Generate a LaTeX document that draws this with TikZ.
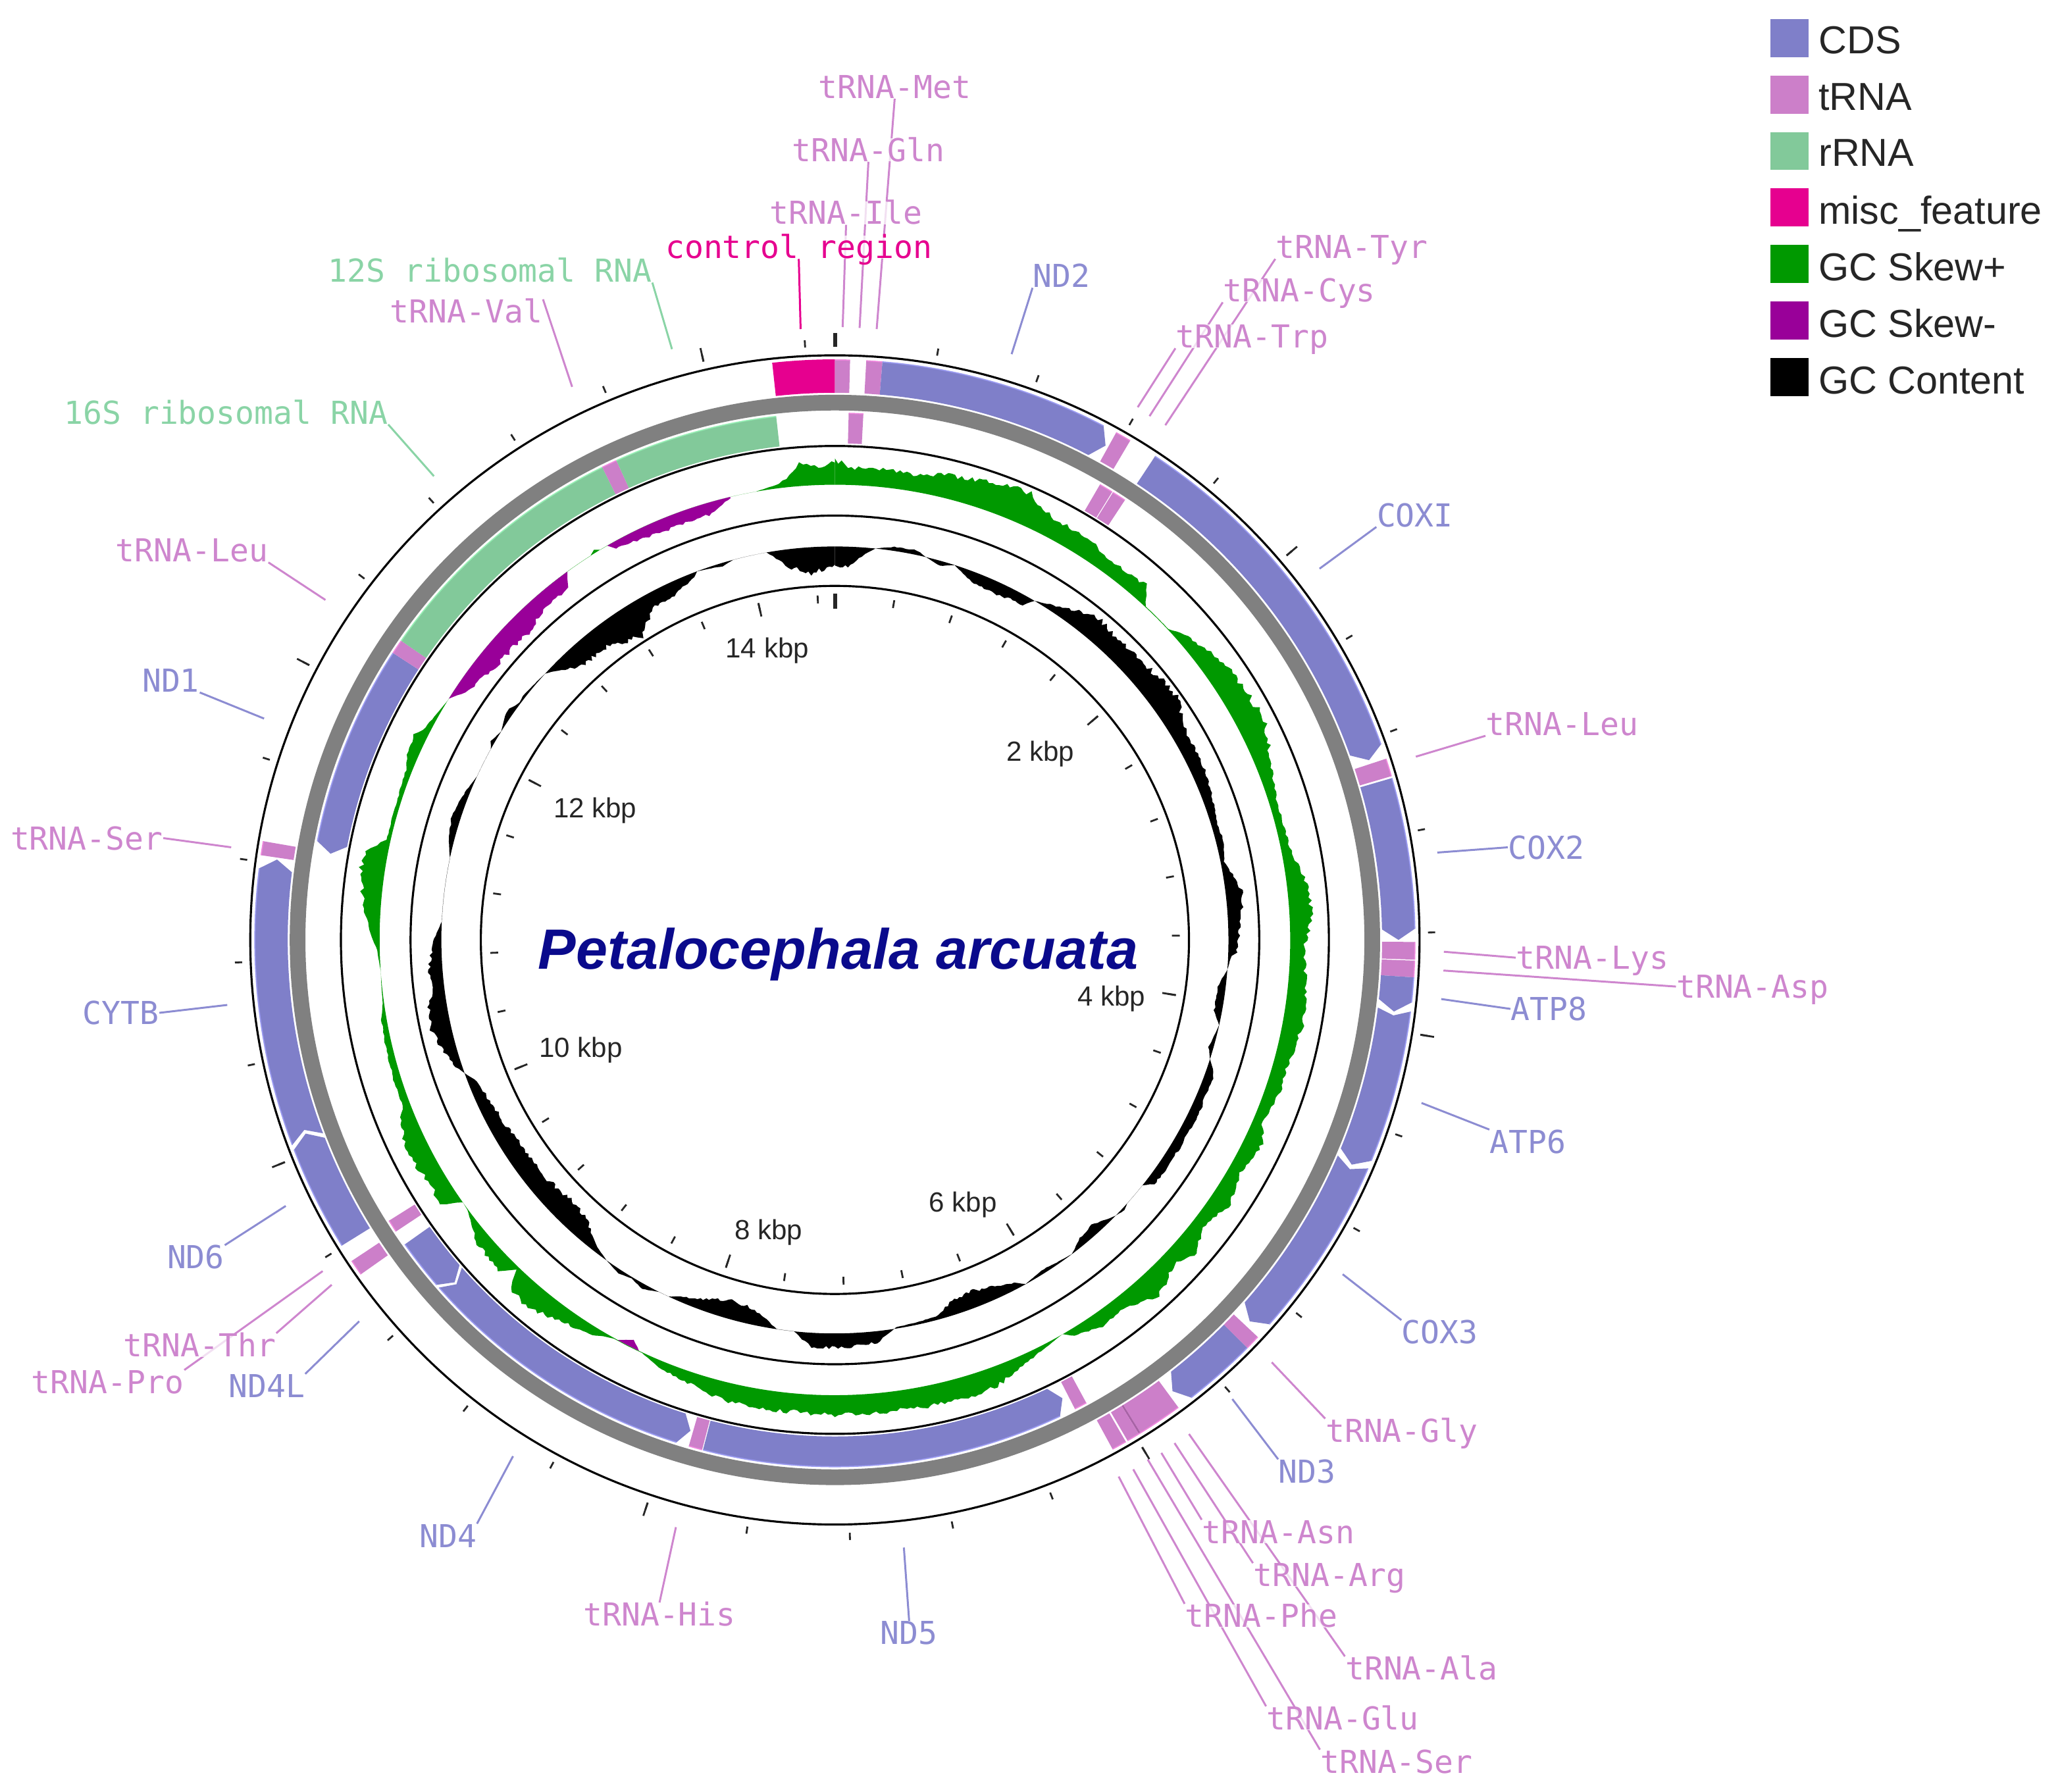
\documentclass[tikz,border=0pt]{standalone}
\usepackage{fontspec}
\setmainfont{Liberation Sans}
\newfontfamily\labelfont{DejaVu Sans Mono}
\usetikzlibrary{backgrounds}
\definecolor{cdsfill}{HTML}{7F7FC9}
\definecolor{cdsrim}{HTML}{9C9CF2}
\definecolor{cdstext}{HTML}{8C8CD2}
\definecolor{trnafill}{HTML}{CC7FC9}
\definecolor{trnarim}{HTML}{EE88DD}
\definecolor{trnadark}{HTML}{A862A6}
\definecolor{trnatext}{HTML}{CE86CE}
\definecolor{rrnafill}{HTML}{82C99A}
\definecolor{rrnarim}{HTML}{96EEB4}
\definecolor{rrnatext}{HTML}{8AD4A6}
\definecolor{miscfill}{HTML}{E6008F}
\definecolor{skewplus}{HTML}{009900}
\definecolor{skewminus}{HTML}{990099}
\definecolor{titleblue}{HTML}{0A0A8C}
\definecolor{ringgray}{HTML}{808080}
\tikzstyle{genelabel}=[font=\labelfont\fontsize{13.7}{16}\selectfont,inner sep=0pt,text height=10pt,text depth=0pt,fill=white,fill opacity=0.75,text opacity=1]
\tikzstyle{cdslabel}=[genelabel,text=cdstext]
\tikzstyle{trnalabel}=[genelabel,text=trnatext]
\tikzstyle{rrnalabel}=[genelabel,text=rrnatext]
\tikzstyle{misclabel}=[genelabel,text=miscfill]
\tikzstyle{cdsline}=[draw=cdstext,line width=0.85pt]
\tikzstyle{trnaline}=[draw=trnatext,line width=0.85pt]
\tikzstyle{rrnaline}=[draw=rrnatext,line width=0.85pt]
\tikzstyle{miscline}=[draw=miscfill,line width=0.85pt]
\tikzstyle{ring}=[draw=black,line width=0.9pt]
\tikzstyle{tickline}=[draw=black!85,line width=0.8pt]
\tikzstyle{kbplabel}=[font=\fontsize{12}{14}\selectfont,text=black!85,inner sep=0pt,text height=8.6pt,text depth=0pt]
\tikzstyle{legendbox}=[minimum size=0.58cm,inner sep=0pt]
\tikzstyle{legendtext}=[font=\fontsize{16.9}{20}\selectfont,text=black!85,anchor=west,inner sep=0pt,text height=12.2pt,text depth=0pt]
% one feature on a track: fill, rim, inner radius, outer radius, from, to
\newcommand{\band}[6]{%
  \fill[#1] ({90-#5}:#4) arc[start angle={90-#5},end angle={90-#6},radius=#4*0.02cm]
    -- ({90-#6}:#3) arc[start angle={90-#6},end angle={90-#5},radius=#3*0.02cm] -- cycle;
  \draw[#2,line width=0.5pt] ({90-#5}:#4) arc[start angle={90-#5},end angle={90-#6},radius=#4*0.02cm];
}
% a coding gene with its head: [tail notch], inner radius, outer radius, tail, head
\newcommand{\genearrow}[5][0]{%
  \pgfmathsetmacro\headdir{ifthenelse(#5>#4,1,-1)}
  \pgfmathsetmacro\shoulder{#5-\headdir*1.1}
  \pgfmathsetmacro\notch{#4+\headdir*#1}
  \pgfmathsetmacro\rmid{(#2+#3)/2}
  \fill[cdsfill] ({90-#4}:#3) arc[start angle={90-#4},end angle={90-\shoulder},radius=#3*0.02cm]
    -- ({90-#5}:\rmid) -- ({90-\shoulder}:#2)
    arc[start angle={90-\shoulder},end angle={90-#4},radius=#2*0.02cm] -- ({90-\notch}:\rmid) -- cycle;
  \draw[cdsrim,line width=0.5pt] ({90-#4}:#3) arc[start angle={90-#4},end angle={90-\shoulder},radius=#3*0.02cm];
}
% a jagged graph round a base circle: colour, base, from, to, angle/height list
\newcommand{\track}[5]{%
  \gdef\trackpath{}
  \foreach \ang/\hgt [remember=\ang as \lastang (initially #3),remember=\hgt as \lasthgt (initially 0)] in {#5}{
    \pgfmathtruncatemacro\nstep{max(1,(\ang-\lastang)/0.4)}
    \foreach \istep in {1,...,\nstep}{
      \pgfmathsetmacro\ta{\lastang+(\ang-\lastang)*\istep/\nstep}
      \pgfmathsetmacro\tr{#2+(\lasthgt+(\hgt-\lasthgt)*\istep/\nstep)*(1+0.12*rand)}
      \xdef\trackpath{\trackpath -- ({90-\ta}:\tr)}
    }
  }
  \fill[#1] ({90-#3}:#2) \trackpath -- ({90-#4}:#2)
    arc[start angle={90-#4},end angle={90-#3},radius=#2*0.02cm] -- cycle;
}
\begin{document}
\begin{tikzpicture}[x=0.02cm,y=0.02cm]
  \pgfmathsetseed{4711}
  % rings
  \draw[ring] (0,0) circle[radius=445*0.02cm];
  \draw[ring] (0,0) circle[radius=376*0.02cm];
  \draw[ring] (0,0) circle[radius=323*0.02cm];
  \draw[ring] (0,0) circle[radius=269.5*0.02cm];
  \draw[draw=ringgray,line width=6.8pt] (0,0) circle[radius=409*0.02cm];
  % ticks
  \foreach \k in {1,...,36}{
    \draw[tickline] ({90-\k*9.92}:451.5) -- ({90-\k*9.92}:457);
    \draw[tickline] ({90-\k*9.92}:256.5) -- ({90-\k*9.92}:262.5);
  }
  \foreach \k in {5,10,...,35}{
    \draw[tickline] ({90-\k*9.92}:451.5) -- ({90-\k*9.92}:462);
    \draw[tickline] ({90-\k*9.92}:252.5) -- ({90-\k*9.92}:263);
  }
  \draw[tickline,line width=1.7pt] (90:451.5) -- (90:462);
  \draw[tickline,line width=1.7pt] (90:252) -- (90:263.5);
  % outer track
  \band{miscfill}{miscfill}{416.5}{441.5}{-6.2}{0}
  \band{trnafill}{trnarim}{416.5}{441.5}{0}{1.5}
  \band{trnafill}{trnarim}{416.5}{441.5}{3.1}{4.7}
  \genearrow{416.5}{441.5}{4.7}{28.7}
  \band{trnafill}{trnarim}{416.5}{441.5}{29}{30.6}
  \genearrow{416.5}{441.5}{33.5}{71.4}
  \band{trnafill}{trnarim}{416.5}{441.5}{71.8}{73.6}
  \genearrow{416.5}{441.5}{73.8}{90}
  \band{trnafill}{trnarim}{416.5}{441.5}{90.2}{91.95}
  \band{trnafill}{trnarim}{416.5}{441.5}{92.05}{93.7}
  \genearrow{416.5}{441.5}{93.7}{97.3}
  \genearrow[0.6]{416.5}{441.5}{97.1}{113.5}
  \genearrow[0.8]{416.5}{441.5}{113.2}{132.6}
  \band{trnafill}{trnarim}{416.5}{441.5}{133.2}{134.7}
  \genearrow{416.5}{441.5}{134.7}{143.2}
  \band{trnafill}{trnarim}{416.5}{441.5}{143.7}{148.2}
  \band{trnadark}{trnarim}{416.5}{441.5}{148.2}{148.4}
  \band{trnafill}{trnarim}{416.5}{441.5}{148.4}{149.7}
  \band{trnafill}{trnarim}{416.5}{441.5}{149.9}{151.4}
  \band{trnafill}{trnarim}{416.5}{441.5}{234.8}{236.4}
  \genearrow{416.5}{441.5}{238.2}{249.9}
  \genearrow[1]{416.5}{441.5}{249.3}{278.2}
  \band{trnafill}{trnarim}{416.5}{441.5}{278.4}{279.8}
  % inner track
  \band{trnafill}{trnarim}{378}{401}{1.5}{3.1}
  \band{trnafill}{trnarim}{378}{401}{30.2}{31.75}
  \band{trnafill}{trnarim}{378}{401}{31.85}{33.4}
  \band{trnafill}{trnarim}{378}{401}{151.5}{152.9}
  \genearrow{378}{401}{194.5}{153.6}
  \band{trnafill}{trnarim}{378}{401}{194.6}{196.1}
  \genearrow[1]{378}{401}{228.7}{196.4}
  \genearrow{378}{401}{234.7}{228}
  \band{trnafill}{trnarim}{378}{401}{236.4}{237.8}
  \genearrow{378}{401}{303}{279.7}
  \band{trnafill}{trnarim}{378}{401}{303}{304.6}
  \band{rrnafill}{rrnarim}{378}{401}{304.6}{333.8}
  \band{trnafill}{trnarim}{378}{401}{333.8}{335.5}
  \band{rrnafill}{rrnarim}{378}{401}{335.5}{353.6}
  % GC skew
  \track{skewplus}{346.5}{350}{360}{351/1,353/3,354/7,355.7/16.5,358/14,360/19}
  \track{skewplus}{346.5}{0}{350}{0/19,2/13,5/13.5,10/13,12/16,17.4/20,22.8/26.5,25/20,27.5/14.5,32.6/16,
    35.4/9.3,37.4/10.5,41.2/12.8,43/0.5,47/0.5,49.3/8,55.3/17.7,59.2/20,63.4/20,68/11.5,72.7/6,78.5/6.5,
    82.8/14,86.5/17.5,90.9/11,100/15.5,106/10.5,108/12,113/7,115.5/14.5,119.9/9,123.8/15,128/9,130.9/18,
    133.7/10.5,137.7/19.5,142.4/8.8,145.3/11.7,148.8/5.5,150/0,153/3,157/8.7,160/15,165/16,170/15,175/15,
    180/15,185/14,190/15,193.4/14,198/9,202/6,205/0.5,209/0.5,212/7,216/11,219.4/17.5,222.5/17.5,223.4/11,
    224/2.6,225.5/12,229.6/10.7,233.7/0.6,234.8/0,236.2/15,238.9/13,243.2/17,247.4/12,249/6,252/6,256/5,
    260/4,262/1,266/0,268.7/2,273/11,277.9/18.5,280.7/18,282.6/3,287.5/3,291.6/4.6,294.3/9.5,296/10,297/5,
    301.7/0,327.5/0,328.3/2.5,329/0,350/0}
  \track{skewminus}{346.5}{302}{324}{304.3/-9.5,308.7/-14.5,315/-16.7,319/-11.5,322.9/-10.5,324/0}
  \track{skewminus}{346.5}{330}{346.7}{330.8/-5,334.8/-8,336.7/-9.5,343.5/-9,346.7/-1}
  \track{skewminus}{346.5}{205.5}{208.5}{206.7/-6,208.5/0}
  % GC content
  \track{black}{299.5}{350}{360}{352.9/-13.5,356.3/-20,360/-15}
  \track{black}{299.5}{0}{350}{0/-15,2/-15,4/-6.5,5.9/0,8.6/3,11.9/3.5,13.4/0,15.7/-4,17.7/0,20.9/-8,24.7/-9,
    29.3/-7,30.5/0,34.4/7,39/17.5,43.7/14.5,49/16.5,54.5/20.5,59/11.5,64.5/10.5,68.7/8,73.2/4.3,75.8/6,
    78.6/2.7,83/12,85/12,87.8/9,91.8/6.5,92.3/2.5,94.4/0,97/-6.5,100.5/-6,102.5/0,106/-3.5,107.6/0,
    109.7/7,112.8/6.5,116/8,118.6/7,123.3/7,127.4/6.5,128.6/0,132/0,133/2,134.5/0,138/-8,140.6/-5.5,143/0,
    148/-3,151/0,152/-4,155.6/-10.5,158.8/-12.5,162/-10.5,165/-2.7,171/-1,174/8.5,177.7/10.5,180/10.5,
    183.3/11.5,185.2/3,186/0,188.5/0,191.4/-10,196/-15.5,199.3/-9.5,203.4/-3.5,205/0,206.5/0,208.9/4,
    211/1,213/3,215.5/0,218.6/-6,221.8/-15.5,226/-18,230.5/-14.5,237.6/-13.5,242.9/-11,248.4/-7,250.2/0,
    251.5/5,254.8/11.5,257.4/15,261/14.5,262.9/8.5,265.8/10.5,270.2/5.5,272.7/0,282/0,284.3/4,287.5/6.5,
    290.6/5,294.6/0,299/0,300/3,302/0,305/5,307/1,308/2,312.6/0,317.4/-16.5,322.6/-16.5,327.6/-27,
    329.2/-20,331.3/-11,335/-10.5,338.8/-3.5,339.5/0,343.3/-2.5,345/0,350/0}
  % title and kbp labels
  \node[font=\bfseries\itshape\fontsize{24.6}{28}\selectfont,text=titleblue,inner sep=0pt,text height=17.6pt,text depth=0pt] (title) at (2.5,-6.5) {Petalocephala arcuata};
  \begin{scope}[shift={(-635.5,715.5)},yscale=-1]
    \useasboundingbox (0,0) rectangle (1568,1364);
    \node[kbplabel] (kba) at (792,572) {2 kbp};
    \node[kbplabel] (kbb) at (846,758) {4 kbp};
    \node[kbplabel] (kbc) at (733,915) {6 kbp};
    \node[kbplabel] (kbd) at (585,936) {8 kbp};
    \node[kbplabel] (kbe) at (442,797) {10 kbp};
    \node[kbplabel] (kbf) at (453,615) {12 kbp};
    \node[kbplabel] (kbg) at (584,493) {14 kbp};
    % legend
    \node[legendbox,fill=cdsfill] (lega) at (1362,29) {};
    \node[legendbox,fill=trnafill] (legb) at (1362,72) {};
    \node[legendbox,fill=rrnafill] (legc) at (1362,115) {};
    \node[legendbox,fill=miscfill] (legd) at (1362,158) {};
    \node[legendbox,fill=skewplus] (lege) at (1362,201) {};
    \node[legendbox,fill=skewminus] (legf) at (1362,244) {};
    \node[legendbox,fill=black] (legg) at (1362,287) {};
    \node[legendtext] (texa) at (1384,30) {CDS};
    \node[legendtext] (texb) at (1384,73) {tRNA};
    \node[legendtext] (texc) at (1384,116) {rRNA};
    \node[legendtext] (texd) at (1384,160) {misc\_feature};
    \node[legendtext] (texe) at (1384,203) {GC Skew+};
    \node[legendtext] (texf) at (1384,246) {GC Skew-};
    \node[legendtext] (texg) at (1384,289) {GC Content};
    % gene labels
    \node[trnalabel] (met) at (681,66) {tRNA-Met};
    \node[trnalabel] (gln) at (661,114) {tRNA-Gln};
    \node[trnalabel] (ile) at (644,162) {tRNA-Ile};
    \node[misclabel] (ctrl) at (608,188) {control region};
    \node[cdslabel] (nd2) at (808,210) {ND2};
    \node[trnalabel] (tyr) at (1029,188) {tRNA-Tyr};
    \node[trnalabel] (cys) at (989,221) {tRNA-Cys};
    \node[trnalabel] (trp) at (953,256) {tRNA-Trp};
    \node[cdslabel] (cox1) at (1077,392) {COXI};
    \node[trnalabel] (leua) at (1189,551) {tRNA-Leu};
    \node[cdslabel] (cox2) at (1177,645) {COX2};
    \node[trnalabel] (lys) at (1212,729) {tRNA-Lys};
    \node[trnalabel] (asp) at (1334,751) {tRNA-Asp};
    \node[cdslabel] (atp8) at (1179,768) {ATP8};
    \node[cdslabel] (atp6) at (1163,869) {ATP6};
    \node[cdslabel] (cox3) at (1096,1014) {COX3};
    \node[trnalabel] (gly) at (1067,1089) {tRNA-Gly};
    \node[cdslabel] (nd3) at (995,1120) {ND3};
    \node[trnalabel] (asn) at (973,1166) {tRNA-Asn};
    \node[trnalabel] (arg) at (1012,1199) {tRNA-Arg};
    \node[trnalabel] (phe) at (960,1230) {tRNA-Phe};
    \node[trnalabel] (ala) at (1082,1270) {tRNA-Ala};
    \node[trnalabel] (glu) at (1022,1308) {tRNA-Glu};
    \node[trnalabel] (sera) at (1063,1341) {tRNA-Ser};
    \node[cdslabel] (nd5) at (692,1243) {ND5};
    \node[trnalabel] (his) at (502,1229) {tRNA-His};
    \node[cdslabel] (nd4) at (341,1169) {ND4};
    \node[cdslabel] (nd4l) at (203,1055) {ND4L};
    \node[trnalabel] (thr) at (152,1024) {tRNA-Thr};
    \node[trnalabel] (pro) at (82,1052) {tRNA-Pro};
    \node[cdslabel] (nd6) at (149,957) {ND6};
    \node[cdslabel] (cytb) at (92,771) {CYTB};
    \node[trnalabel] (serb) at (66,638) {tRNA-Ser};
    \node[cdslabel] (nd1) at (130,518) {ND1};
    \node[trnalabel] (leub) at (146,419) {tRNA-Leu};
    \node[rrnalabel] (rrnl) at (172,314) {16S ribosomal RNA};
    \node[trnalabel] (val) at (355,237) {tRNA-Val};
    \node[rrnalabel] (rrns) at (373,206) {12S ribosomal RNA};
    % free ends of the leaders
    \coordinate (pmet) at (667.3,250.5);
    \coordinate (pgln) at (654.3,249.7);
    \coordinate (pile) at (641.4,249);
    \coordinate (pctrl) at (609.4,250.5);
    \coordinate (pnd2) at (770,269.6);
    \coordinate (ptyr) at (887,323.7);
    \coordinate (pcys) at (875,316.8);
    \coordinate (ptrp) at (866,310);
    \coordinate (pcox1) at (1004.4,432.9);
    \coordinate (pleua) at (1077.7,576);
    \coordinate (pcox2) at (1094,649);
    \coordinate (plys) at (1099,724.5);
    \coordinate (pasp) at (1098.7,738.8);
    \coordinate (patp8) at (1097,760.5);
    \coordinate (patp6) at (1082,839.6);
    \coordinate (pcox3) at (1022,970);
    \coordinate (pgly) at (968,1037);
    \coordinate (pnd3) at (938,1065);
    \coordinate (pasn) at (884,1106);
    \coordinate (parg) at (894,1098.5);
    \coordinate (pala) at (905,1091.6);
    \coordinate (pphe) at (851.5,1124);
    \coordinate (pglu) at (862.6,1118.5);
    \coordinate (psera) at (873.6,1111);
    \coordinate (pnd5) at (688,1178);
    \coordinate (phis) at (514.5,1162.5);
    \coordinate (pnd4) at (390.5,1108.5);
    \coordinate (pnd4l) at (273.4,1005.8);
    \coordinate (pthr) at (252.5,978);
    \coordinate (ppro) at (245.6,967.6);
    \coordinate (pnd6) at (217.5,918);
    \coordinate (pcytb) at (173,765);
    \coordinate (pserb) at (176,645);
    \coordinate (pnd1) at (201,547);
    \coordinate (pleub) at (247.7,456.7);
    \coordinate (prrnl) at (330.3,362.5);
    \coordinate (pval) at (435.5,294.5);
    \coordinate (prrns) at (511.5,265.8);
    \begin{scope}[on background layer]
      \draw[trnaline] (pmet) -- (met.south);
      \draw[trnaline] (pgln) -- (gln.south);
      \draw[trnaline] (pile) -- (ile.south);
      \draw[miscline] (pctrl) -- (ctrl.south);
      \draw[cdsline] (pnd2) -- (nd2.south west);
      \draw[trnaline] (ptyr) -- (tyr.south west);
      \draw[trnaline] (pcys) -- (cys.south west);
      \draw[trnaline] (ptrp) -- (trp.south west);
      \draw[cdsline] (pcox1) -- (cox1.south west);
      \draw[trnaline] (pleua) -- (leua.south west);
      \draw[cdsline] (pcox2) -- (cox2.west);
      \draw[trnaline] (plys) -- (lys.west);
      \draw[trnaline] (pasp) -- (asp.west);
      \draw[cdsline] (patp8) -- (atp8.west);
      \draw[cdsline] (patp6) -- (atp6.north west);
      \draw[cdsline] (pcox3) -- (cox3.north west);
      \draw[trnaline] (pgly) -- (gly.north west);
      \draw[cdsline] (pnd3) -- (nd3.north west);
      \draw[trnaline] (pasn) -- (asn.north west);
      \draw[trnaline] (parg) -- (arg.north west);
      \draw[trnaline] (pala) -- (ala.north west);
      \draw[trnaline] (pphe) -- (phe.north west);
      \draw[trnaline] (pglu) -- (glu.north west);
      \draw[trnaline] (psera) -- (sera.north west);
      \draw[cdsline] (pnd5) -- (nd5.north);
      \draw[trnaline] (phis) -- (his.north);
      \draw[cdsline] (pnd4) -- (nd4.north east);
      \draw[cdsline] (pnd4l) -- (nd4l.north east);
      \draw[trnaline] (pthr) -- (thr.north east);
      \draw[trnaline] (ppro) -- (pro.north east);
      \draw[cdsline] (pnd6) -- (nd6.north east);
      \draw[cdsline] (pcytb) -- (cytb.east);
      \draw[trnaline] (pserb) -- (serb.east);
      \draw[cdsline] (pnd1) -- (nd1.south east);
      \draw[trnaline] (pleub) -- (leub.south east);
      \draw[rrnaline] (prrnl) -- (rrnl.south east);
      \draw[trnaline] (pval) -- (val.north east);
      \draw[rrnaline] (prrns) -- (rrns.south east);
    \end{scope}
  \end{scope}
\end{tikzpicture}
\end{document}
